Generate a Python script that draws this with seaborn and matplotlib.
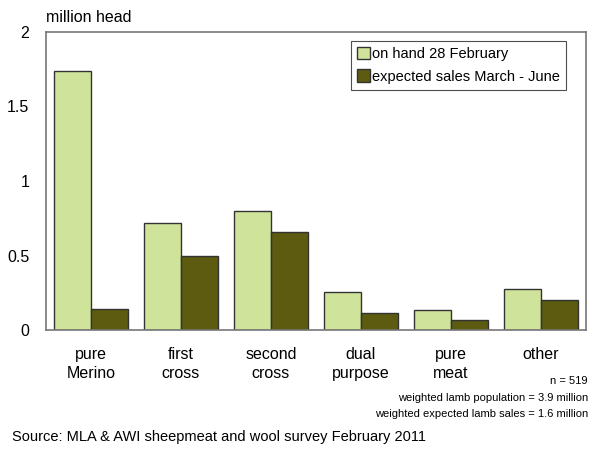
import pandas as pd
import matplotlib
matplotlib.use("Agg")
import matplotlib.pyplot as plt
import seaborn as sns

breeds = ["pure\nMerino", "first\ncross", "second\ncross", "dual\npurpose", "pure\nmeat", "other"]
on_hand = [1.74, 0.72, 0.80, 0.255, 0.133, 0.275]
expected_sales = [0.14, 0.50, 0.66, 0.115, 0.068, 0.20]
series = ["on hand 28 February", "expected sales March - June"]
colors = ["#D0E39A", "#5C5B0F"]

df = pd.DataFrame({
    "breed": breeds * 2,
    "value": on_hand + expected_sales,
    "series": [series[0]] * len(breeds) + [series[1]] * len(breeds),
})

sns.set_style("white")
plt.rcParams["font.family"] = ["Liberation Sans", "DejaVu Sans"]
plt.rcParams["text.color"] = "black"
plt.rcParams["xtick.color"] = "black"
plt.rcParams["ytick.color"] = "black"

fig = plt.figure(figsize=(5.94, 4.5), dpi=100)
ax = fig.add_axes([46 / 594, 120 / 450, 540 / 594, 298 / 450])

sns.barplot(data=df, x="breed", y="value", hue="series", palette=colors,
            width=0.82, edgecolor="#333333", linewidth=1.0, saturation=1,
            ax=ax)

ax.set_ylim(0, 2)
ax.set_xlim(-0.5, len(breeds) - 0.5)
ax.set_yticks([0, 0.5, 1, 1.5, 2])
ax.set_yticklabels(["0", "0.5", "1", "1.5", "2"])
ax.tick_params(axis="y", labelsize=11.5, length=0, pad=12)
ax.tick_params(axis="x", labelsize=11.5, length=0, pad=12)
for lbl in ax.get_xticklabels():
    lbl.set_linespacing(1.35)
ax.set_xlabel("")
ax.set_ylabel("")
for s in ax.spines.values():
    s.set_color("#777777")
    s.set_linewidth(1.2)

leg = ax.legend(loc="upper right", bbox_to_anchor=(0.977, 0.995), fontsize=10.5,
                frameon=True, fancybox=False, edgecolor="#222222",
                handlelength=0.9, handleheight=0.9, handletextpad=0.1,
                borderpad=0.45, labelspacing=0.55)
leg.get_frame().set_linewidth(0.8)

fig.text(46 / 594, 1 - 18 / 450, "million head", fontsize=11.5, va="center")
fig.text(588 / 594, 1 - 381 / 450, "n = 519", fontsize=8, ha="right", va="center")
fig.text(588 / 594, 1 - 398 / 450, "weighted lamb population = 3.9 million",
         fontsize=8, ha="right", va="center")
fig.text(588 / 594, 1 - 414 / 450, "weighted expected lamb sales = 1.6 million",
         fontsize=8, ha="right", va="center")
fig.text(12 / 594, 1 - 437 / 450, "Source: MLA & AWI sheepmeat and wool survey February 2011",
         fontsize=10.5, va="center")

fig.savefig("out.png", dpi=100)
